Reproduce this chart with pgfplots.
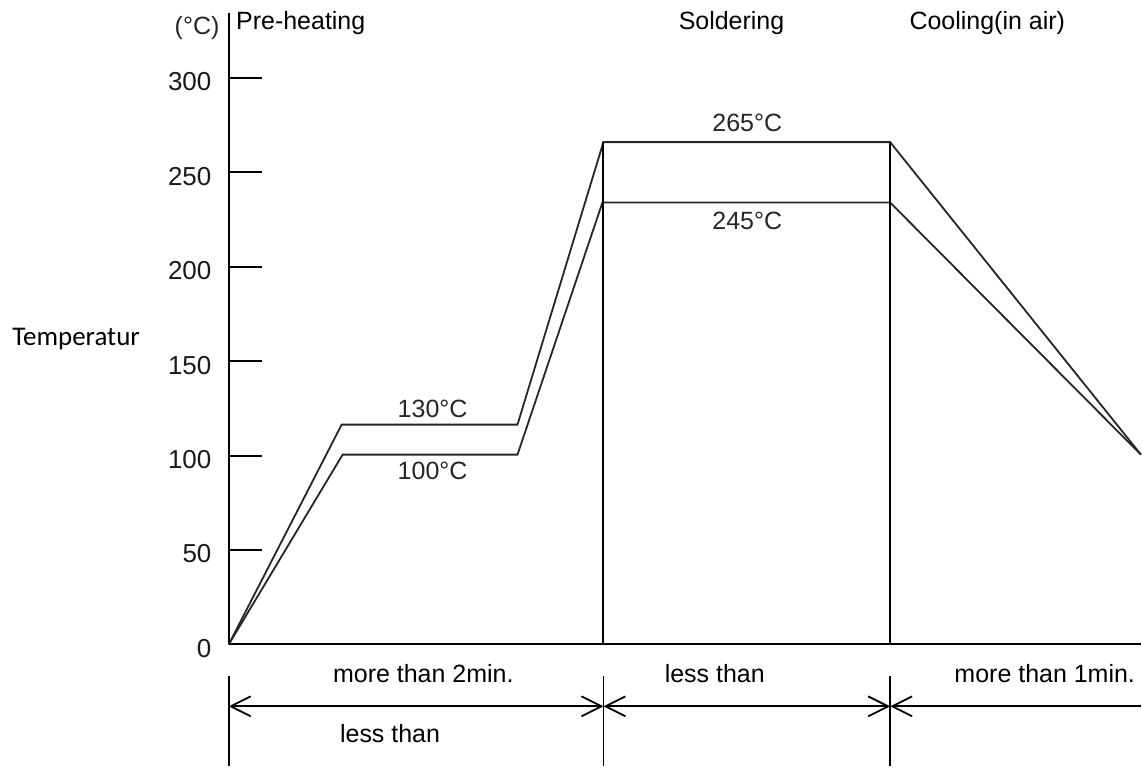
\documentclass[border=0pt]{standalone}
\usepackage{pgfplots}
\pgfplotsset{compat=1.18}
\usepackage{fontspec}
\setmainfont{Liberation Sans}
\newfontfamily\calibri{Carlito}
\usetikzlibrary{arrows.meta}

% 1 px of the reference = 0.5pt; x in px from the temperature axis,
% y in axis degrees (0 at px 645, 50 per 94.5 px)
\tikzset{
  lbl/.style={font=\fontsize{12.5}{14}\selectfont, inner sep=0pt},
  tmp/.style={font=\fontsize{12.5}{14}\selectfont, inner sep=0pt, text=black!85},
  dim/.style={line width=0.9pt, black},
  barb/.style={{Straight Barb[length=10pt,width=10pt]}-{Straight Barb[length=10pt,width=10pt]}},
}

\begin{document}
\begin{tikzpicture}
\begin{axis}[
  scale only axis, width=456.5pt, height=383.5pt,
  xmin=0, xmax=913, ymin=-64.55, ymax=341.27,
  axis x line=none, axis y line=left,
  y axis line style={draw=none},
  xtick=\empty,
  ytick={0,50,...,300},
  tick align=inside, major tick length=16.5pt,
  ytick style={line width=1pt, black},
  yticklabel style={font=\fontsize{13}{14}\selectfont, text=black!90,
    anchor=east, inner sep=0pt, xshift=-8.5pt, yshift=-2pt},
  /pgf/number format/assume math mode=true,
  clip=false,
]
% bounding box = reference picture
\path (axis cs:-229,-64.55) -- (axis cs:913,341.27);

% upper and lower limit of the profile
\addplot[black!85, line width=0.9pt, mark=none] coordinates {
  (0,0) (113,116.4) (289,116.4) (375,266) (662,266) (913,100.5)};
\addplot[black!85, line width=0.9pt, mark=none] coordinates {
  (0,0) (114,100.5) (289,100.5) (374,234) (662,234) (913,100.5)};
\addplot[black, line width=1pt, mark=none] coordinates {(375,0) (375,266)};
\addplot[black, line width=1pt, mark=none] coordinates {(662,0) (662,266)};

% axes
\draw[line width=1.1pt] (axis cs:0,0) -- (axis cs:913,0);
\draw[line width=1.1pt] (axis cs:0,0) -- (axis cs:0,334.4);

% time dimensions
\draw[dim] (axis cs:0,-16.9) -- (axis cs:0,-64.55);
\draw[dim] (axis cs:375,-16.9) -- (axis cs:375,-64.55);
\draw[dim] (axis cs:662,-16.9) -- (axis cs:662,-64.55);
\draw[dim, barb] (axis cs:0,-32.8) -- (axis cs:375,-32.8);
\draw[dim, barb] (axis cs:375,-32.8) -- (axis cs:662,-32.8);
\draw[dim, {Straight Barb[length=10pt,width=10pt]}-] (axis cs:662,-32.8) -- (axis cs:913,-32.8);

% texts
\node[tmp, anchor=base east] at (axis cs:-9,323) {(°C)};
\node[lbl, anchor=base west] at (axis cs:7,325.9) {Pre-heating};
\node[lbl, anchor=base west] at (axis cs:450,325.9) {Soldering};
\node[lbl, anchor=base west] at (axis cs:681,325.9) {Cooling(in air)};
\node[anchor=base west, inner sep=0pt, font=\calibri\fontsize{13.5}{15}\selectfont]
  at (axis cs:-217,158.2) {Temperatur};

\node[tmp, anchor=base] at (axis cs:204,120.1) {130°C};
\node[tmp, anchor=base] at (axis cs:204,87.3) {100°C};
\node[tmp, anchor=base] at (axis cs:519,271.4) {265°C};
\node[tmp, anchor=base] at (axis cs:519,219.6) {245°C};

\node[lbl, anchor=base west] at (axis cs:104,-20.1) {more than 2min.};
\node[lbl, anchor=base west] at (axis cs:436,-20.1) {less than};
\node[lbl, anchor=base west] at (axis cs:726,-20.1) {more than 1min.};
\node[lbl, anchor=base west] at (axis cs:111,-51.9) {less than};
\end{axis}
\end{tikzpicture}
\end{document}
